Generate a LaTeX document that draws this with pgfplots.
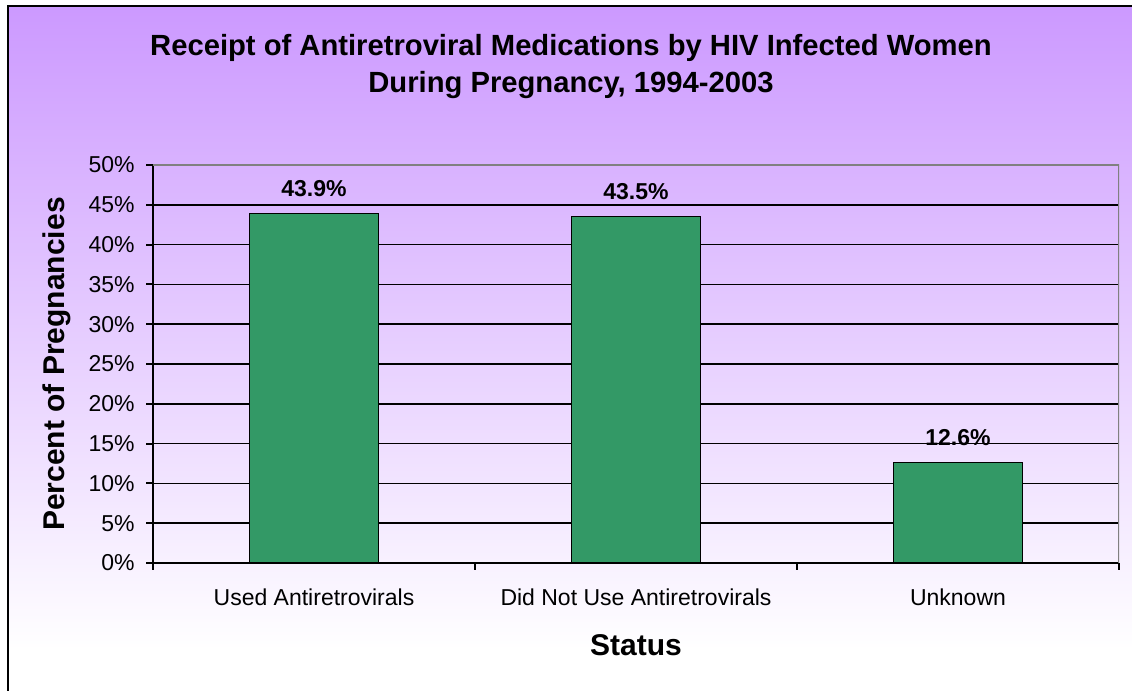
\documentclass[border=0pt]{standalone}
\usepackage{fontspec}
\setmainfont{Liberation Sans}
\usepackage{pgfplots}
\pgfplotsset{compat=1.18}
\definecolor{barfill}{RGB}{51,153,102}
\definecolor{bgtop}{RGB}{204,153,255}
\begin{document}
\begin{tikzpicture}
\fill[white] (0,0) rectangle (849pt,518.25pt);
\shade[top color=bgtop, bottom color=white] (6.2pt,30.75pt) rectangle (849pt,513.75pt);
\draw[line width=1.5pt] (6.2pt,0) -- (6.2pt,513.75pt) -- (849pt,513.75pt);
\node[anchor=base, font=\bfseries\fontsize{21.9}{26}\selectfont] at (428.25pt,476.5pt) {Receipt of Antiretroviral Medications by HIV Infected Women};
\node[anchor=base, font=\bfseries\fontsize{21.9}{26}\selectfont] at (428.25pt,448.5pt) {During Pregnancy, 1994-2003};
\begin{axis}[
  at={(114.75pt,96pt)}, anchor=south west,
  width=724.5pt, height=298.5pt, scale only axis,
  xmin=0, xmax=3, ymin=0, ymax=50,
  ybar, bar width=96.75pt,
  axis x line*=bottom, axis y line*=left,
  axis line style={line width=1.5pt, -},
  ytick={0,5,...,50},
  yticklabels={0\%,5\%,10\%,15\%,20\%,25\%,30\%,35\%,40\%,45\%,50\%},
  xtick={0.5,1.5,2.5},
  xticklabels={Used Antiretrovirals,Did Not Use Antiretrovirals,Unknown},
  minor xtick={0,1,2,3},
  tick align=outside,
  major tick length=5.25pt, minor tick length=5.25pt,
  tick style={black, line width=1.5pt},
  major x tick style={draw=none},
  ymajorgrids, grid style={black, line width=1.2pt},
  /pgf/number format/assume math mode=true,
  ticklabel style={font=\fontsize{17.25}{20}\selectfont},
  yticklabel style={xshift=-5pt},
  xticklabel style={yshift=-10.5pt},
  xlabel={Status},
  ylabel={Percent of Pregnancies},
  xlabel style={at={(axis description cs:0.5,-0.2074)}, anchor=center, font=\bfseries\fontsize{22.5}{26}\selectfont},
  ylabel style={at={(axis description cs:-0.1000,0.5)}, anchor=center, font=\bfseries\fontsize{22.5}{26}\selectfont},
  point meta=explicit symbolic,
  nodes near coords,
  every node near coord/.append style={font=\bfseries\fontsize{17.25}{20}\selectfont, anchor=center, yshift=19pt},
]
\addplot[fill=barfill, draw=black, line width=0.9pt] coordinates {(0.5,43.9) [43.9\%] (1.5,43.5) [43.5\%] (2.5,12.6) [12.6\%]};
\draw[gray, line width=1.2pt] (axis cs:0,50) -- (axis cs:3,50) -- (axis cs:3,0);
\end{axis}
\pgfresetboundingbox
\useasboundingbox (0,0) rectangle (849pt,518.25pt);
\end{tikzpicture}
\end{document}
